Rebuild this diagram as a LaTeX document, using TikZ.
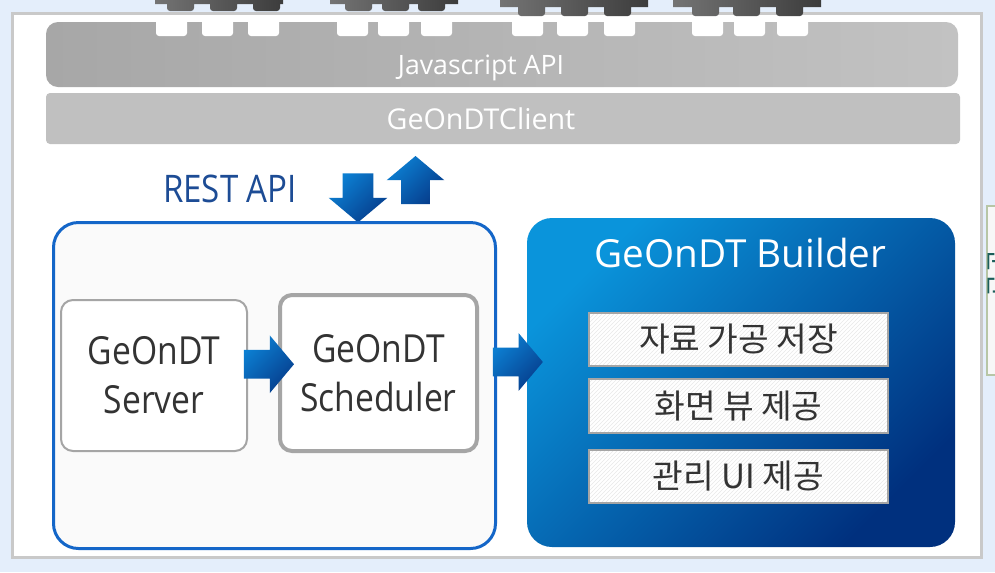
\documentclass[tikz,border=0pt]{standalone}
\usepackage{fontspec}
\setmainfont{Open Sans}
\newfontfamily\narrowsans{Open Sans}[FakeStretch=0.87]
\newfontfamily\kr{Noto Sans CJK KR}
\usetikzlibrary{calc,patterns,positioning,shapes.arrows}

\definecolor{pagebg}{HTML}{E4EEFB}
\definecolor{framegray}{HTML}{C9C9C9}
\definecolor{piecelight}{HTML}{747474}
\definecolor{piecedark}{HTML}{3C3C3C}
\definecolor{barleft}{HTML}{A7A7A7}
\definecolor{barright}{HTML}{C2C2C2}
\definecolor{clientgray}{HTML}{C0C0C0}
\definecolor{restblue}{HTML}{1D4C95}
\definecolor{groupblue}{HTML}{1466C8}
\definecolor{boxgray}{HTML}{A5A5A5}
\definecolor{textgray}{HTML}{333333}
\definecolor{arrowlight}{HTML}{0C80D3}
\definecolor{arrowdark}{HTML}{063D8C}
\definecolor{builderlight}{HTML}{0A94DB}
\definecolor{builderdark}{HTML}{00307E}
\definecolor{sidegreen}{HTML}{B7C6A6}
\definecolor{sideteal}{HTML}{1B5E5A}

\tikzset{
	bartext/.style={text=white, inner sep=0pt, anchor=base},
	module/.style={draw=boxgray, fill=white, rounded corners=9pt, align=center, inner sep=0pt, text=textgray, font=\narrowsans\fontsize{29pt}{36.75pt}\selectfont},
	task/.style={draw=boxgray, line width=1.5pt, preaction={fill=white}, pattern=north east lines, pattern color=black!9, minimum width=224.25pt, minimum height=40pt, inner sep=0pt, text=textgray, font=\kr\fontsize{25pt}{28pt}\selectfont},
	flow/.style={single arrow, shade, top color=arrowlight, bottom color=arrowdark, shading angle=45, inner xsep=0pt, inner ysep=10.5pt, minimum height=37.5pt, single arrow head extend=10.9pt, single arrow tip angle=100},
}

\begin{document}
\begin{tikzpicture}[x=0.75pt,y=-0.75pt]
				\useasboundingbox (0,0) rectangle (995,572);
				\clip (0,0) rectangle (995,572);
				\fill[pagebg] (0,0) rectangle (995,572);
				\draw[framegray, line width=2.25pt, fill=white] (12.5,13.5) rectangle (981.5,557.5);
				
				\node[shade, left color=barleft, right color=barright, rounded corners=9pt, minimum width=684pt, minimum height=48.75pt, inner sep=0pt] (js) at (502,54.5) {};
				\foreach \nx in {156,202,248,337,378,421,512,557,604,692,734,777}
					\fill[white, rounded corners=2.25pt] (\nx,17) rectangle ++(31,19);
				\foreach \xa/\xb/\ta/\tb/\tc/\by/\ty in {155/283/167/210/253/4/11, 330/458/345/382/418/4/11, 500/648/518/561/604/7/16, 673/821/692/733/776/7/16}
					\shade[left color=piecelight, right color=piecedark] (\xa,-5) rectangle (\xb,\by) [rounded corners=2.25pt] (\ta,-5) rectangle ++(27,5+\ty) (\tb,-5) rectangle ++(27,5+\ty) (\tc,-5) rectangle ++(27,5+\ty);
				\node[bartext, font=\fontsize{20pt}{24pt}\selectfont] (jslabel) at (481,74) {Javascript API};
				
				\node[fill=clientgray, rounded corners=3pt, minimum width=685.5pt, minimum height=38.25pt, inner sep=0pt] (client) at (503,118.5) {};
				\node[bartext, font=\fontsize{21.5pt}{24pt}\selectfont] (clientlabel) at (481,129) {GeOnDTClient};
				
				\node[anchor=base, inner sep=0pt, text=restblue, font=\narrowsans\fontsize{28.5pt}{30pt}\selectfont] (rest) at (230,202) {REST API};
				\node[flow, minimum height=36.75pt, inner xsep=11.25pt, inner ysep=0pt, single arrow head extend=10.5pt, shape border rotate=270] (down) at (358,191.5) {};
				\node[flow, minimum height=36pt, inner xsep=10.5pt, inner ysep=0pt, shape border rotate=90] (up) at (415.5,186) {};
				
				\node[draw=groupblue, line width=2.25pt, fill=black!2, rounded corners=18.75pt, minimum width=331.5pt, minimum height=244.5pt] (grp) at (274.5,385.5) {};
				\node[module, line width=1.5pt, minimum width=139.5pt, minimum height=113.25pt] (srv) at (154,375.5) {GeOnDT\\Server};
				\node[module, line width=3pt, minimum width=147.75pt, minimum height=117pt] (sch) at (378.5,373) {GeOnDT\\Scheduler};
				\node[flow] (srvtosch) at ($(srv.east)!0.5!(sch.west)+(0,-10)$) {};
				
				\node[shade, top color=builderlight, bottom color=builderdark, shading angle=45, rounded corners=18.75pt, minimum width=321pt, minimum height=246.75pt] (bld) at (741,382.5) {};
				\node[flow] (grptobld) at ($(grp.east)!0.5!(bld.west)+(0,-22)$) {};
				\node[anchor=base, inner sep=0pt, text=white, font=\fontsize{29pt}{32pt}\selectfont] (bldtitle) at (740.5,267) {GeOnDT Builder};
				\node[task] (store) at (738.5,339.5) {자료 가공 저장};
				\node[task, below=8.25pt of store] (view) {화면 뷰 제공};
				\node[task, below=11.25pt of view] (admin) {관리 UI 제공};
				
				\draw[sidegreen, line width=1.5pt, fill=black!3] (987,206) rectangle (1060,375);
				\node[rotate=-90, inner sep=0pt, text=sideteal, font=\kr\fontsize{19.5pt}{20pt}\selectfont] (ops) at (999,273) {운관};
			\end{tikzpicture}
\end{document}
